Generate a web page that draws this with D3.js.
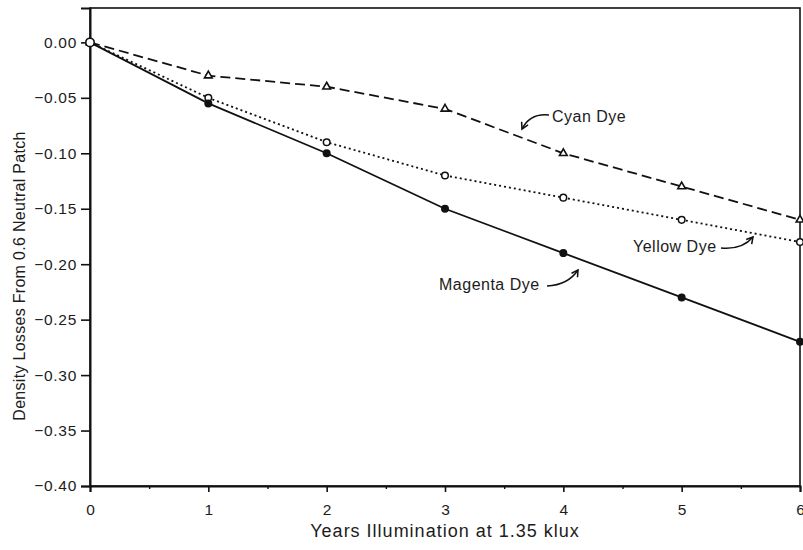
<!DOCTYPE html>
<html>
<head>
<meta charset="utf-8">
<script src="https://cdn.jsdelivr.net/npm/d3@7"></script>
<style>
  html, body { margin: 0; padding: 0; background: #fff; }
  svg { display: block; font-family: "Liberation Sans", Arial, Helvetica, sans-serif; }
</style>
</head>
<body>
<svg id="chart" width="803" height="550"></svg>
<script>
// Years of illumination at 1.35 klux
const years = [0, 1, 2, 3, 4, 5, 6];
// Density losses from the 0.6 neutral patch
const cyanLoss = [0, -0.03, -0.04, -0.06, -0.10, -0.13, -0.16];
const yellowLoss = [0, -0.05, -0.09, -0.12, -0.14, -0.16, -0.18];
const magentaLoss = [0, -0.055, -0.10, -0.15, -0.19, -0.23, -0.27];
const xTickValues = [0, 1, 2, 3, 4, 5, 6];
const xMinorTicks = [0.5, 1.5, 2.5, 3.5, 4.5, 5.5];
const yTickValues = [0, -0.05, -0.10, -0.15, -0.20, -0.25, -0.30, -0.35, -0.40];
const xTitle = "Years Illumination at 1.35 klux";
const yTitle = "Density Losses From 0.6 Neutral Patch";

const svg = d3.select("#chart");
const plotLeft = 90, plotRight = 800, plotTop = 8, plotBottom = 486;

const x = d3.scaleLinear().domain([0, 6]).range([plotLeft, plotRight]);
const y = d3.scaleLinear().domain([-0.40, 0.031]).range([plotBottom, plotTop]);

const ink = "#111";
const textInk = "#1c1c1c";

// frame
svg.append("rect")
  .attr("x", plotLeft).attr("y", plotTop)
  .attr("width", plotRight - plotLeft).attr("height", plotBottom - plotTop)
  .attr("fill", "none").attr("stroke", ink).attr("stroke-width", 1.6);

// y axis
const yAxis = d3.axisLeft(y).tickValues(yTickValues).tickSize(9).tickPadding(4)
  .tickFormat(d3.format(".2f"));
const gy = svg.append("g").attr("transform", `translate(${plotLeft},0)`).call(yAxis);
gy.select(".domain").attr("stroke", ink).attr("stroke-width", 2);
gy.selectAll(".tick line").attr("stroke", ink).attr("stroke-width", 1.6);
gy.selectAll(".tick text").attr("fill", textInk)
  .style("font-size", "15.5px").style("letter-spacing", "0.7px");

// x axis
const xAxis = d3.axisBottom(x).tickValues(xTickValues).tickSize(6).tickPadding(12)
  .tickFormat(d3.format("d"));
const gx = svg.append("g").attr("transform", `translate(0,${plotBottom})`).call(xAxis);
gx.select(".domain").attr("stroke", ink).attr("stroke-width", 2);
gx.selectAll(".tick line").attr("stroke", ink).attr("stroke-width", 1.6);
gx.selectAll(".tick text").attr("fill", textInk).style("font-size", "15.5px");

const gxm = svg.append("g").attr("transform", `translate(0,${plotBottom})`)
  .call(d3.axisBottom(x).tickValues(xMinorTicks).tickSize(3).tickFormat(""));
gxm.select(".domain").remove();
gxm.selectAll(".tick line").attr("stroke", ink).attr("stroke-width", 1.4);

// axis titles
svg.append("text")
  .attr("x", 445).attr("y", 537)
  .attr("text-anchor", "middle")
  .attr("fill", textInk)
  .style("font-size", "18px")
  .style("letter-spacing", "1px")
  .text(xTitle);

svg.append("text")
  .attr("transform", `translate(25,276) rotate(-90)`)
  .attr("text-anchor", "middle")
  .attr("fill", textInk)
  .style("font-size", "16px")
  .style("letter-spacing", "0.3px")
  .text(yTitle);

// series lines
const line = d3.line().x((d, i) => x(years[i])).y(d => y(d));

svg.append("path").datum(cyanLoss).attr("d", line)
  .attr("fill", "none").attr("stroke", ink).attr("stroke-width", 1.8)
  .attr("stroke-dasharray", "10,5");

svg.append("path").datum(yellowLoss).attr("d", line)
  .attr("fill", "none").attr("stroke", ink).attr("stroke-width", 1.8)
  .attr("stroke-dasharray", "2,3");

svg.append("path").datum(magentaLoss).attr("d", line)
  .attr("fill", "none").attr("stroke", ink).attr("stroke-width", 1.8);

// markers
const tri = d3.symbol().type(d3.symbolTriangle).size(26);
svg.append("g").selectAll("path").data(cyanLoss).join("path")
  .attr("d", tri)
  .attr("transform", (d, i) => `translate(${x(years[i])},${y(d)})`)
  .attr("fill", "#fff").attr("stroke", ink).attr("stroke-width", 1.6);

svg.append("g").selectAll("circle").data(yellowLoss).join("circle")
  .attr("cx", (d, i) => x(years[i])).attr("cy", d => y(d)).attr("r", 3.3)
  .attr("fill", "#fff").attr("stroke", ink).attr("stroke-width", 1.5);

svg.append("g").selectAll("circle").data(magentaLoss).join("circle")
  .attr("cx", (d, i) => x(years[i])).attr("cy", d => y(d)).attr("r", 4)
  .attr("fill", ink);

// open marker at the origin drawn on top
svg.append("circle")
  .attr("cx", x(years[0])).attr("cy", y(yellowLoss[0])).attr("r", 4.2)
  .attr("fill", "#fff").attr("stroke", ink).attr("stroke-width", 1.6);

// annotation arrows
const defs = svg.append("defs");
defs.append("marker")
  .attr("id", "arrowhead")
  .attr("viewBox", "0 0 10 10")
  .attr("refX", 8).attr("refY", 5)
  .attr("markerWidth", 9).attr("markerHeight", 9)
  .attr("orient", "auto")
  .attr("markerUnits", "userSpaceOnUse")
  .append("path")
  .attr("d", "M1,1 L8,5 L1,9")
  .attr("fill", "none").attr("stroke", ink).attr("stroke-width", 1.7);

const labels = [
  { text: "Cyan Dye", tx: 552, ty: 122, path: "M549,115 Q530,113 522,129" },
  { text: "Yellow Dye", tx: 633, ty: 252, path: "M721,248 Q742,250 753,237" },
  { text: "Magenta Dye", tx: 439, ty: 290, path: "M547,286 Q568,285 578,270" }
];

labels.forEach(l => {
  svg.append("text")
    .attr("x", l.tx).attr("y", l.ty)
    .attr("fill", textInk)
    .style("font-size", "16px")
    .style("letter-spacing", "0.5px")
    .text(l.text);
  svg.append("path")
    .attr("d", l.path)
    .attr("fill", "none").attr("stroke", ink).attr("stroke-width", 1.5)
    .attr("marker-end", "url(#arrowhead)");
});
</script>
</body>
</html>
